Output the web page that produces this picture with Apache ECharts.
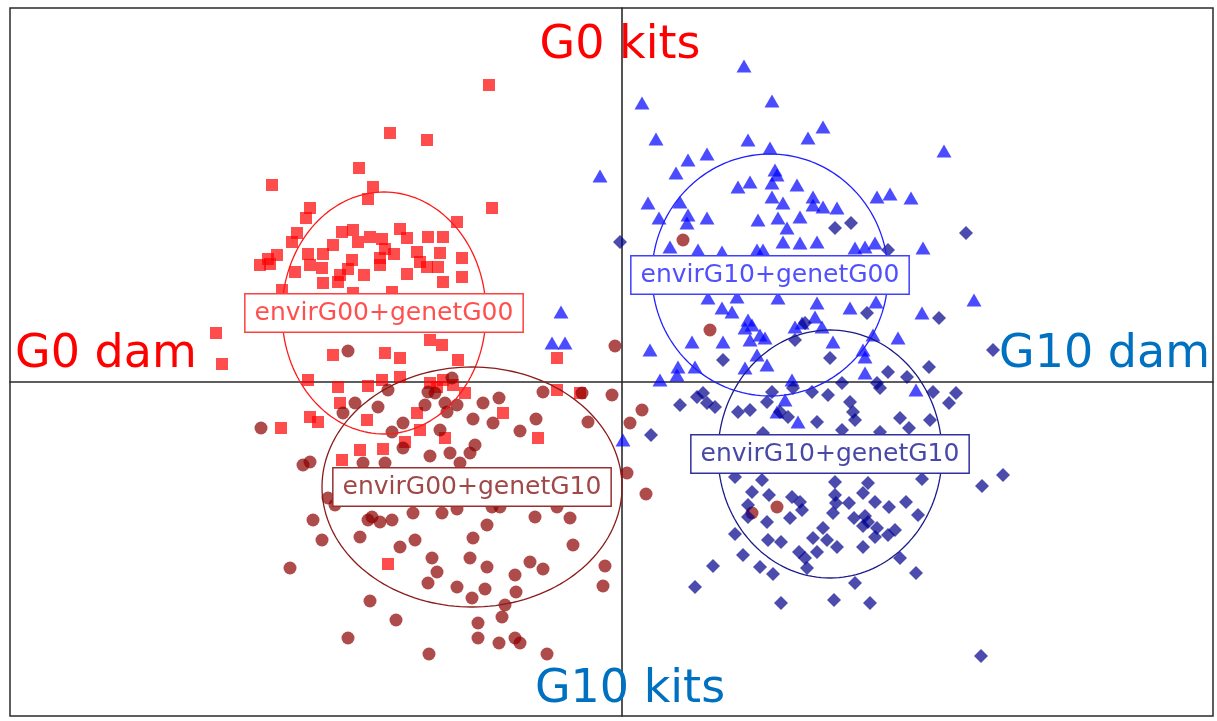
<!DOCTYPE html>
<html><head><meta charset="utf-8">
<script src="https://cdn.jsdelivr.net/npm/echarts@6/dist/echarts.min.js"></script>
<style>html,body{margin:0;padding:0;background:#fff;}#c{width:1217px;height:721px;}</style>
</head><body><div id="c"></div>
<script>
// Group names (labels at ellipse centres)
const groupNames = ['envirG00+genetG00', 'envirG00+genetG10', 'envirG10+genetG00', 'envirG10+genetG10'];

// Axis-end annotations
const axisTitles = ['G0 kits', 'G10 kits', 'G0 dam', 'G10 dam'];

// Scores [axis1, axis2]
const envirG00genetG00 = [
  [-232,249],[-263,214],[-350,197],[-249,195],[-254,183],[-312,174],[-316,164],[-325,149],[-280,150],[-269,152],
  [-222,153],[-252,145],[-264,140],[-240,143],[-237,133],[-289,137],[-215,144],[-345,127],[-354,123],[-314,128],
  [-299,128],[-242,124],[-133,297],[-195,242],[-130,174],[-165,160],[-194,145],[-179,145],[-205,130],[-182,129],
  [-160,124],[-406,49],[-400,18],[-289,27],[-237,29],[-222,24],[-314,2],[-284,-5],[-254,-4],[-240,2],
  [-222,5],[-282,-21],[-312,-35],[-304,-40],[-341,-46],[-255,-38],[-262,-68],[-239,-67],[-280,-78],[-217,-60],
  [-362,117],[-352,118],[-312,117],[-300,114],[-282,107],[-274,113],[-242,117],[-299,99],[-284,100],[-269,89],
  [-230,90],[-340,92],[-160,105],[-179,100],[-184,115],[-195,115],[-202,120],[-164,22],[-192,42],[-180,37],
  [-65,24],[-65,-8],[-42,-11],[-157,-11],[-119,-31],[-84,-56],[-177,-56],[-205,-31],[-202,-48],[-185,-5],
  [-179,2],[-192,-1],[-169,-3],[-234,-182],[-327,110],[-258,107],[-215,108],[-228,128],[-270,122],[-330,140]
];
const envirG00genetG10 = [
  [61,142],[88,52],[20,-28],[8,-41],[5,-91],[24,-112],[155,-125],[130,-131],[-274,31],[-267,-21],
  [-279,-31],[-244,-25],[-234,-8],[-219,-41],[-230,-50],[-219,-66],[-361,-46],[-312,-80],[-319,-83],[-259,-81],
  [-237,-81],[-7,36],[-79,-10],[-40,-11],[-10,-13],[-139,-21],[-123,-16],[-149,-37],[-129,-41],[-102,-49],
  [-86,-37],[-34,-40],[-177,-21],[-165,-23],[-197,-23],[-194,-10],[-187,-11],[-175,-30],[-182,-48],[-147,-63],
  [-152,-71],[-172,-71],[-192,-74],[-162,-81],[-170,4],[-294,-116],[-287,-123],[-309,-138],[-300,-158],[-250,-135],
  [-242,-140],[-230,-138],[-254,-138],[-262,-155],[-222,-165],[-332,-186],[-252,-219],[-226,-238],[-274,-256],[-209,-131],
  [-180,-131],[-165,-127],[-130,-125],[-122,-125],[-87,-135],[-65,-125],[-52,-136],[-135,-143],[-149,-156],[-207,-158],
  [-49,-163],[-190,-176],[-152,-176],[-135,-185],[-185,-190],[-194,-201],[-165,-205],[-137,-207],[-150,-216],[-107,-193],
  [-106,-210],[-92,-180],[-79,-187],[-17,-184],[-19,-204],[-117,-223],[-120,-235],[-144,-241],[-144,-256],[-123,-261],
  [-107,-256],[-102,-261],[-193,-272],[-75,-272]
];
const envirG10genetG00 = [
  [-22,206],[-61,70],[-70,39],[-57,39],[122,316],[20,279],[150,281],[201,255],[34,243],[126,242],
  [148,234],[186,244],[85,228],[66,222],[54,209],[153,212],[155,207],[128,200],[116,195],[150,199],
  [175,197],[150,185],[161,179],[191,185],[191,177],[201,175],[26,179],[58,180],[66,167],[65,159],
  [37,164],[85,164],[136,162],[156,164],[178,165],[165,154],[161,140],[178,139],[195,140],[48,135],
  [76,132],[100,130],[135,132],[141,132],[322,231],[255,185],[268,188],[289,184],[215,174],[233,134],
  [243,135],[253,139],[301,134],[86,84],[115,85],[156,84],[195,79],[100,74],[110,70],[126,62],
  [130,57],[123,54],[138,47],[143,44],[128,42],[135,27],[145,17],[123,14],[101,40],[70,40],
  [28,32],[56,15],[73,15],[38,2],[55,7],[173,55],[193,65],[180,59],[170,2],[200,55],
  [176,-40],[163,-18],[155,-30],[1,-58],[228,74],[254,80],[300,69],[352,82],[276,44],[251,47],
  [241,32],[243,25],[211,40],[243,9],[294,-8]
];
const envirG10genetG10 = [
  [-2,140],[213,154],[229,159],[344,149],[266,132],[101,22],[173,42],[183,59],[81,-11],[85,-21],
  [93,-25],[58,-23],[75,-15],[116,-30],[145,-20],[150,-10],[128,-28],[158,-30],[166,-35],[171,-6],
  [190,-10],[206,-13],[195,-40],[141,-51],[29,-53],[245,69],[317,64],[371,32],[307,15],[266,10],
  [285,5],[255,-1],[258,-6],[220,-1],[311,-10],[334,-11],[327,-21],[228,-20],[231,-30],[233,-38],
  [278,-36],[287,-46],[308,-38],[258,-50],[220,-48],[208,24],[113,-95],[140,-98],[130,-110],[147,-113],
  [170,-115],[178,-120],[180,-128],[126,-123],[126,-135],[145,-140],[168,-136],[113,-152],[146,-158],[159,-160],
  [191,-156],[201,-146],[205,-158],[177,-170],[183,-176],[195,-170],[185,-186],[121,-173],[138,-185],[151,-192],
  [91,-184],[73,-205],[159,-221],[213,-100],[246,-101],[241,-111],[300,-97],[381,-93],[360,-104],[213,-113],
  [214,-121],[227,-121],[253,-120],[267,-125],[284,-120],[211,-131],[232,-136],[243,-134],[246,-140],[241,-144],
  [255,-146],[253,-155],[266,-153],[273,-148],[296,-133],[215,-165],[241,-165],[278,-176],[294,-191],[233,-201],
  [212,-218],[248,-221],[359,-274]
];

// Group ellipses: centre and half-axes
const ellipseCx = [-238, -150, 148, 208];
const ellipseCy = [69, -105, 107, -72];
const ellipseRx = [102, 150, 118, 112];
const ellipseRy = [121, 120, 121, 124];

const groupData = [envirG00genetG00, envirG00genetG10, envirG10genetG00, envirG10genetG10];
const symbols = ['rect', 'circle', 'triangle', 'diamond'];
const symbolSizes = [12, 13, [15, 13], [14, 14]];
const pointColors = ['#ff0000', '#8b0000', '#0000ff', '#00008b'];
const lineColors = ['#ff1a1a', '#8b1a1a', '#2020ff', '#1a1a8b'];
const labelText = ['#ff5050', '#a04848', '#5050ff', '#4848a8'];
const labelBorder = ['#ff4040', '#983030', '#4040ff', '#3030a0'];

function ellipsePath(i) {
  const pts = [];
  const n = 160;
  for (let k = 0; k <= n; k++) {
    const t = 2 * Math.PI * k / n;
    pts.push([ellipseCx[i] + ellipseRx[i] * Math.cos(t), ellipseCy[i] + ellipseRy[i] * Math.sin(t)]);
  }
  return pts;
}

const series = [];
groupData.forEach((d, i) => {
  series.push({
    type: 'scatter', name: groupNames[i], data: d, symbol: symbols[i], symbolSize: symbolSizes[i],
    itemStyle: { color: pointColors[i], opacity: 0.7 }, z: 2, silent: true
  });
});
groupData.forEach((d, i) => {
  series.push({
    type: 'line', data: ellipsePath(i), showSymbol: false, symbol: 'none', smooth: false,
    lineStyle: { color: lineColors[i], width: 1.3 }, z: 3, silent: true
  });
});
groupData.forEach((d, i) => {
  series.push({
    type: 'scatter', data: [{ value: [ellipseCx[i], ellipseCy[i]], name: groupNames[i] }],
    symbolSize: 1, itemStyle: { color: 'rgba(0,0,0,0)' }, z: 5, silent: true,
    label: {
      show: true, position: 'inside', formatter: '{b}', opacity: 1,
      fontFamily: 'DejaVu Sans', fontSize: 25, color: labelText[i],
      backgroundColor: '#ffffff', borderColor: labelBorder[i], borderWidth: 1.5,
      padding: [7, 9, 5, 9]
    }
  });
});

const chart = echarts.init(document.getElementById('c'), null, { renderer: 'canvas' });
const axisCommon = {
  type: 'value', axisTick: { show: false }, axisLabel: { show: false }, splitLine: { show: false },
  axisLine: { show: true, onZero: true, lineStyle: { color: '#2a2a2a', width: 1.6 } }
};
chart.setOption({
  animation: false,
  backgroundColor: '#ffffff',
  grid: { left: 10, right: 4, top: 8, bottom: 5, show: true, borderColor: '#2a2a2a', borderWidth: 1.5, containLabel: false },
  xAxis: Object.assign({ min: -612, max: 591 }, axisCommon),
  yAxis: Object.assign({ min: -334, max: 374 }, axisCommon),
  series: series,
  graphic: [
    { type: 'text', x: 620, y: 46, z: 10, style: { text: axisTitles[0], font: '46px "DejaVu Sans"', fill: '#ff0000', align: 'center', verticalAlign: 'middle' } },
    { type: 'text', x: 630, y: 690, z: 10, style: { text: axisTitles[1], font: '46px "DejaVu Sans"', fill: '#0070c0', align: 'center', verticalAlign: 'middle' } },
    { type: 'text', x: 15, y: 355, z: 10, style: { text: axisTitles[2], font: '46px "DejaVu Sans"', fill: '#ff0000', align: 'left', verticalAlign: 'middle' } },
    { type: 'text', x: 1210, y: 355, z: 10, style: { text: axisTitles[3], font: '46px "DejaVu Sans"', fill: '#0070c0', align: 'right', verticalAlign: 'middle' } }
  ]
});
</script></body></html>
